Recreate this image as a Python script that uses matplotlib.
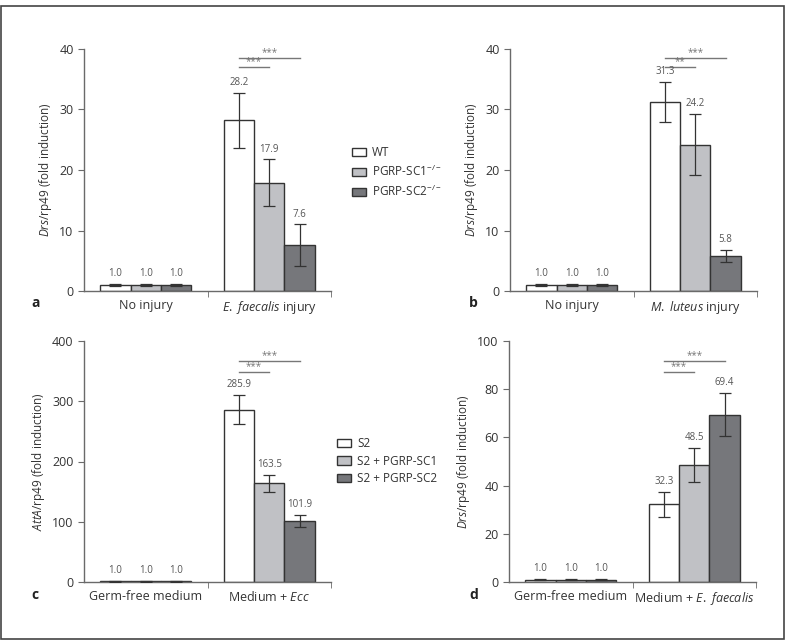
import matplotlib.pyplot as plt
from matplotlib.patches import Patch, Rectangle

plt.rcParams['font.family'] = ['Open Sans', 'DejaVu Sans']
plt.rcParams['mathtext.fontset'] = 'custom'
plt.rcParams['mathtext.rm'] = 'Open Sans'
plt.rcParams['mathtext.it'] = 'Open Sans:italic'
plt.rcParams['mathtext.default'] = 'regular'

# --- data ---
groups_a = ['No injury', r'$\mathit{E.}$ $\mathit{faecalis}$ injury']
vals_a = [[1.0, 28.2], [1.0, 17.9], [1.0, 7.6]]
err_a = [[0.1, 4.5], [0.1, 3.85], [0.1, 3.4]]

groups_b = ['No injury', r'$\mathit{M.}$ $\mathit{luteus}$ injury']
vals_b = [[1.0, 31.3], [1.0, 24.2], [1.0, 5.8]]
err_b = [[0.1, 3.3], [0.1, 5.0], [0.1, 1.0]]

groups_c = ['Germ-free medium', r'Medium + $\mathit{Ecc}$']
vals_c = [[1.0, 285.9], [1.0, 163.5], [1.0, 101.9]]
err_c = [[1.0, 24.0], [1.0, 14.5], [1.0, 10.0]]

groups_d = ['Germ-free medium', r'Medium + $\mathit{E.}$ $\mathit{faecalis}$']
vals_d = [[1.0, 32.3], [1.0, 48.5], [1.0, 69.4]]
err_d = [[0.25, 5.2], [0.25, 7.0], [0.25, 8.9]]

series_top = ['WT', r'PGRP-SC1$^{-/-}$', r'PGRP-SC2$^{-/-}$']
series_bot = ['S2', 'S2 + PGRP-SC1', 'S2 + PGRP-SC2']

# significance: (bar i, bar j, y, label)
sig_a = [(0, 1, 37.0, '***'), (0, 2, 38.5, '***')]
sig_b = [(0, 1, 37.0, '**'), (0, 2, 38.5, '***')]
sig_c = [(0, 1, 348, '***'), (0, 2, 366, '***')]
sig_d = [(0, 1, 87, '***'), (0, 2, 91.5, '***')]

COLORS = ['#ffffff', '#c0c1c5', '#76777b']
EDGE = '#333333'
AX = '#6a6a6a'
TXT = '#555555'

W, H = 787, 642
fig = plt.figure(figsize=(W / 100, H / 100), dpi=100)

def px_axes(x0, x1, ytop, ybot):
    return fig.add_axes([x0 / W, 1 - ybot / H, (x1 - x0) / W, (ybot - ytop) / H])

def panel(ax, groups, vals, errs, ymax, yticks, ylabel, sigs, letter, lx, ly):
    bw = 0.245
    offs = [-bw, 0, bw]
    for k in range(3):
        xs = [g + offs[k] for g in range(2)]
        ax.bar(xs, vals[k], width=bw, color=COLORS[k], edgecolor=EDGE, lw=1, zorder=2)
        ax.errorbar(xs, vals[k], yerr=errs[k], fmt='none', ecolor=EDGE,
                    elinewidth=0.9, capsize=4, capthick=0.9, zorder=3)
        for x, v, e in zip(xs, vals[k], errs[k]):
            ax.annotate(f'{v:.1f}', (x, v + e), xytext=(0, 3.5), textcoords='offset points',
                        ha='center', va='bottom', fontsize=7, color=TXT)
    for i, j, y, lab in sigs:
        x0 = 1 + offs[i]
        x1 = 1 + offs[j]
        ax.plot([x0, x1], [y, y], color='#777777', lw=1, clip_on=False)
        ax.text((x0 + x1) / 2, y, lab, ha='center', va='bottom', fontsize=7,
                color='#777777', clip_on=False)
    ax.set_xlim(-0.5, 1.5)
    ax.set_ylim(0, ymax)
    ax.set_yticks(yticks)
    ax.set_xticks([0, 1])
    ax.set_xticklabels(groups, fontsize=9, color='#333333')
    ax.set_xticks([0.5, 1.5], minor=True)
    ax.tick_params(axis='x', which='major', length=0, pad=6)
    ax.tick_params(axis='x', which='minor', length=4, color=AX, direction='out')
    ax.tick_params(axis='y', length=4, color=AX, labelsize=9, labelcolor='#333333')
    for s in ['top', 'right']:
        ax.spines[s].set_visible(False)
    for s in ['left', 'bottom']:
        ax.spines[s].set_color(AX)
        ax.spines[s].set_linewidth(1)
    ax.set_ylabel(ylabel, fontsize=8.5, color='#333333', labelpad=4)
    fig.text(lx / W, 1 - ly / H, letter, fontsize=10, fontweight='bold',
             ha='left', va='center', color='#222222')

ax_a = px_axes(84, 331, 49, 291)
ax_b = px_axes(510, 757, 49, 291)
ax_c = px_axes(84, 331, 341, 582)
ax_d = px_axes(509, 756, 341, 582)

panel(ax_a, groups_a, vals_a, err_a, 40, [0, 10, 20, 30, 40],
      r'$\mathit{Drs}$/rp49 (fold induction)', sig_a, 'a', 31, 303)
panel(ax_b, groups_b, vals_b, err_b, 40, [0, 10, 20, 30, 40],
      r'$\mathit{Drs}$/rp49 (fold induction)', sig_b, 'b', 469, 303)
panel(ax_c, groups_c, vals_c, err_c, 400, [0, 100, 200, 300, 400],
      r'$\mathit{AttA}$/rp49 (fold induction)', sig_c, 'c', 31, 595)
panel(ax_d, groups_d, vals_d, err_d, 100, [0, 20, 40, 60, 80, 100],
      r'$\mathit{Drs}$/rp49 (fold induction)', sig_d, 'd', 469, 595)

def legend(labels, x, y):
    handles = [Patch(facecolor=c, edgecolor=EDGE, lw=1) for c in COLORS]
    fig.legend(handles, labels, loc='upper left', bbox_to_anchor=(x / W, 1 - y / H),
               frameon=False, fontsize=8.5, handlelength=1.2, handleheight=0.7,
               handletextpad=0.5, labelspacing=0.4, borderpad=0, borderaxespad=0,
               labelcolor='#333333')

legend(series_top, 352, 146)
legend(series_bot, 337, 437)

# outer frame
fig.patches.append(Rectangle((0.5 / W, 3 / H), (W - 4) / W, (H - 9) / H,
                             transform=fig.transFigure, fill=False,
                             edgecolor='#444444', lw=1.2))

fig.savefig('out.png', dpi=100)
